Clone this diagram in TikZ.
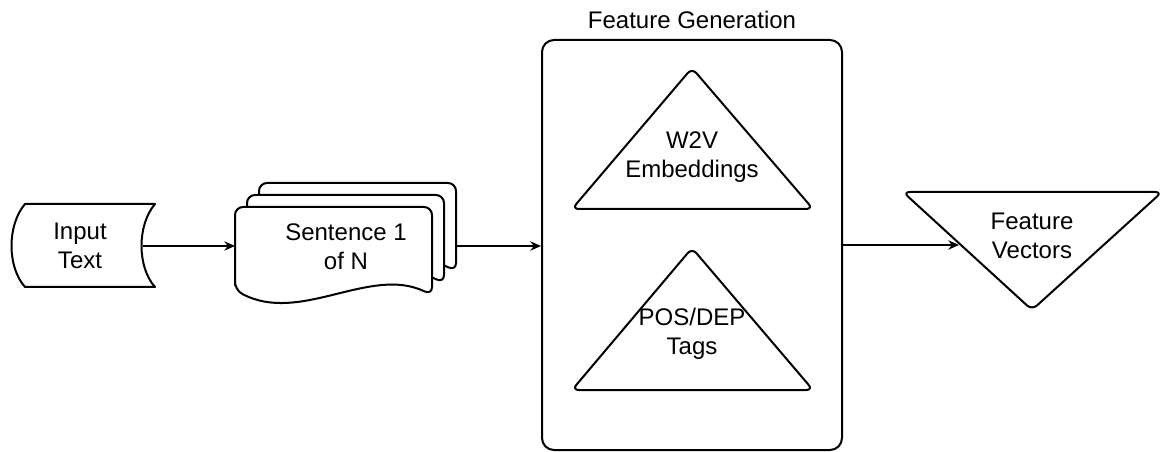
\documentclass[tikz,border=0pt]{standalone}
\usepackage{fontspec}
\setmainfont{Liberation Sans}
\usetikzlibrary{arrows.meta}

\tikzset{every node/.style={align=center, font=\fontsize{18}{21.75}\selectfont}}

\begin{document}
\begin{tikzpicture}[x=0.75pt, y=-0.75pt,
		shapeline/.style={draw, line width=1.5pt, line join=round, fill=white},
		flow/.style={-{Stealth[length=8pt, width=7pt]}, line width=1pt}]
			\useasboundingbox (0,0) rectangle (1164,452);
			
			% Define input shape
			\draw[shapeline] (25,204) -- (155,204) .. controls (137,225) and (137,267) .. (155,287)
				-- (25,287) .. controls (7,267) and (7,225) .. (25,204) -- cycle;
			\node (input) at (80,246) {Input\\Text};
			\coordinate (inputR) at (143,246);
			
			% Stack of sentence documents, back to front
			\foreach \d in {24,12,0}
				\draw[shapeline, rounded corners=6pt, shift={(\d,-\d)}] (235,290) -- (235,207) -- (432,207) -- (432,295)
					.. controls (370,265) and (300,325) .. (235,290) -- cycle;
			\node (sent) at (346,247) {Sentence 1\\of N};
			\coordinate (sentL) at (235,246);
			\coordinate (sentR) at (457,246);
			
			% Feature generation box
			\node[draw, line width=1.5pt, rounded corners=9pt, minimum width=225pt, minimum height=307.5pt,
				label={[yshift=4pt]above:Feature Generation}] (feat) at (692,245) {};
			
			% Triangles inside the box
			\draw[shapeline, rounded corners=5pt] (692,68) -- (813,209) -- (572,209) -- cycle;
			\node (w2v) at (692,157) {W2V\\Embeddings};
			\draw[shapeline, rounded corners=5pt] (692,248) -- (813,390) -- (572,390) -- cycle;
			\node (pos) at (692,334) {POS/DEP\\Tags};
			
			% Output triangle
			\draw[shapeline, rounded corners=5pt] (903,192) -- (1162,192) -- (1032,310) -- cycle;
			\node (vec) at (1032,236) {Feature\\Vectors};
			\coordinate (vecL) at (959,245);
			
			% Arrows between the stages
			\draw[flow] (inputR) -- (sentL);
			\draw[flow] (sentR) -- (feat.west |- sentR);
			\draw[flow] (feat.east) -- (vecL);
		\end{tikzpicture}
\end{document}
